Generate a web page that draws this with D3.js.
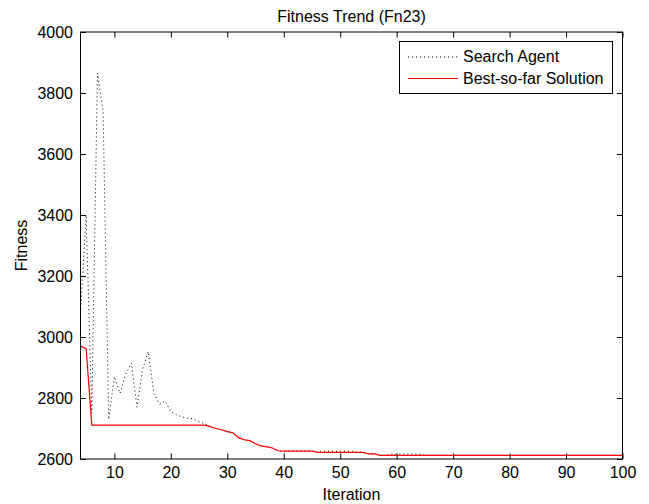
<!DOCTYPE html>
<html>
<head>
<meta charset="utf-8">
<script src="https://cdn.jsdelivr.net/npm/d3@7"></script>
<style>
    body { margin: 0; background: #fff; }
    svg text { font-family: 'Liberation Sans', Arial, sans-serif; fill: #000; }
</style>
</head>
<body>
<script>
var firstIteration = 4;
var lastIteration = 100;

// fitness of the search agent, iterations 4..100
var searchAgent = [
    3080, 3400, 2750, 3865, 3740, 2730, 2870, 2815, 2878, 2915,
    2770, 2893, 2952, 2815, 2780, 2790, 2755, 2745, 2738, 2734,
    2732, 2722, 2716,
    2706, 2700, 2696, 2690, 2686, 2670, 2663, 2660, 2650, 2643, 2640, 2636, 2627,
    2626, 2626, 2626, 2626, 2626, 2626,
    2622,
    2625, 2625, 2625, 2625, 2625, 2625,
    2622, 2622,
    2617, 2617,
    2612, 2612,
    2616, 2616, 2616, 2616, 2616, 2616,
    2612, 2612, 2612, 2612, 2612, 2612, 2612, 2612, 2612, 2612,
    2612, 2612, 2612, 2612, 2612, 2612, 2612, 2612, 2612, 2612,
    2612, 2612, 2612, 2612, 2612, 2612, 2612, 2612, 2612, 2612,
    2612, 2612, 2612, 2612, 2612, 2612
];

// best-so-far fitness, iterations 4..100
var bestSoFar = [
    2970, 2962,
    2711, 2711, 2711, 2711, 2711, 2711, 2711, 2711, 2711, 2711,
    2711, 2711, 2711, 2711, 2711, 2711, 2711, 2711, 2711, 2711, 2711,
    2706, 2700, 2696, 2690, 2686, 2670, 2663, 2660, 2650, 2643, 2640, 2636, 2627,
    2626, 2626, 2626, 2626, 2626, 2626,
    2622, 2622, 2622, 2622, 2622, 2622, 2622, 2622, 2622,
    2617, 2617,
    2612, 2612, 2612, 2612, 2612, 2612, 2612, 2612, 2612, 2612,
    2612, 2612, 2612, 2612, 2612, 2612, 2612, 2612, 2612, 2612,
    2612, 2612, 2612, 2612, 2612, 2612, 2612, 2612, 2612, 2612,
    2612, 2612, 2612, 2612, 2612, 2612, 2612, 2612, 2612, 2612,
    2612, 2612, 2612, 2612
];

var xTicks = [10, 20, 30, 40, 50, 60, 70, 80, 90, 100];
var yTicks = [2600, 2800, 3000, 3200, 3400, 3600, 3800, 4000];

var seriesNames = ['Search Agent', 'Best-so-far Solution'];

var width = 649;
var height = 504;
var plot = { left: 80.5, right: 622.5, top: 32, bottom: 459 };
var tickLength = 5.5;
var fontSize = 16;
var dots = '1,3';

var iterations = d3.range(firstIteration, lastIteration + 1);

var x = d3.scaleLinear()
    .domain([firstIteration, lastIteration])
    .range([plot.left, plot.right]);

var y = d3.scaleLinear()
    .domain([2600, 4000])
    .range([plot.bottom, plot.top]);

var svg = d3.select('body').append('svg')
    .attr('width', width)
    .attr('height', height);

svg.append('rect')
    .attr('width', width)
    .attr('height', height)
    .attr('fill', '#fff');

svg.append('clipPath')
    .attr('id', 'plot-clip')
    .append('rect')
    .attr('x', plot.left)
    .attr('y', plot.top)
    .attr('width', plot.right - plot.left)
    .attr('height', plot.bottom - plot.top);

var line = d3.line()
    .x(function(d) { return x(d[0]); })
    .y(function(d) { return y(d[1]); });

function pairs(values) {
    return iterations.map(function(it, i) { return [it, values[i]]; });
}

var lines = svg.append('g').attr('class', 'plot-area').attr('clip-path', 'url(#plot-clip)');

lines.append('path')
    .attr('class', 'search-agent')
    .attr('d', line(pairs(searchAgent)))
    .attr('fill', 'none')
    .attr('stroke', '#000')
    .attr('stroke-width', 1)
    .attr('stroke-dasharray', dots);

lines.append('path')
    .attr('class', 'best-so-far')
    .attr('d', line(pairs(bestSoFar)))
    .attr('fill', 'none')
    .attr('stroke', '#ff0000')
    .attr('stroke-width', 1.2);

// axes: MATLAB style box with inward ticks on all four sides
var axes = svg.append('g').attr('class', 'axes-container');

axes.append('g')
    .attr('transform', 'translate(0,' + plot.bottom + ')')
    .call(d3.axisBottom(x).tickValues(xTicks).tickSizeInner(-tickLength).tickSizeOuter(0).tickPadding(8));

axes.append('g')
    .attr('transform', 'translate(0,' + plot.top + ')')
    .call(d3.axisTop(x).tickValues(xTicks).tickSizeInner(-tickLength).tickSizeOuter(0).tickFormat(''));

axes.append('g')
    .attr('transform', 'translate(' + plot.left + ',0)')
    .call(d3.axisLeft(y).tickValues(yTicks).tickFormat(d3.format('d'))
        .tickSizeInner(-tickLength).tickSizeOuter(0).tickPadding(7.5));

axes.append('g')
    .attr('transform', 'translate(' + plot.right + ',0)')
    .call(d3.axisRight(y).tickValues(yTicks).tickSizeInner(-tickLength).tickSizeOuter(0).tickFormat(''));

axes.selectAll('.domain').remove();
axes.selectAll('.tick line').attr('stroke', '#000');
axes.selectAll('.tick text')
    .style('font-family', "'Liberation Sans', Arial, sans-serif")
    .style('font-size', fontSize + 'px')
    .attr('fill', '#000');

axes.append('rect')
    .attr('x', plot.left)
    .attr('y', plot.top)
    .attr('width', plot.right - plot.left)
    .attr('height', plot.bottom - plot.top)
    .attr('fill', 'none')
    .attr('stroke', '#000')
    .attr('stroke-width', 1);

svg.append('text')
    .attr('x', (plot.left + plot.right) / 2)
    .attr('y', 22)
    .attr('text-anchor', 'middle')
    .style('font-size', fontSize + 'px')
    .text('Fitness Trend (Fn23)');

svg.append('text')
    .attr('x', (plot.left + plot.right) / 2)
    .attr('y', 500)
    .attr('text-anchor', 'middle')
    .style('font-size', fontSize + 'px')
    .text('Iteration');

svg.append('text')
    .attr('transform', 'translate(27,' + (plot.top + plot.bottom) / 2 + ') rotate(-90)')
    .attr('text-anchor', 'middle')
    .style('font-size', fontSize + 'px')
    .text('Fitness');

// legend
var legend = svg.append('g').attr('class', 'legend');

legend.append('rect')
    .attr('x', 399.5)
    .attr('y', 41.5)
    .attr('width', 213)
    .attr('height', 52)
    .attr('fill', '#fff')
    .attr('stroke', '#000');

var legendItems = legend.selectAll('.legend-item')
    .data(seriesNames)
    .enter()
    .append('g')
    .attr('class', 'legend-item')
    .attr('transform', function(d, i) { return 'translate(0,' + (56.5 + i * 21.5) + ')'; });

legendItems.append('line')
    .attr('x1', 408)
    .attr('x2', 458)
    .attr('y1', 0.5)
    .attr('y2', 0.5)
    .attr('stroke', function(d, i) { return i === 0 ? '#000' : '#ff0000'; })
    .attr('stroke-width', function(d, i) { return i === 0 ? 1 : 1.2; })
    .attr('stroke-dasharray', function(d, i) { return i === 0 ? dots : null; });

legendItems.append('text')
    .attr('x', 463)
    .attr('y', 5.5)
    .style('font-size', fontSize + 'px')
    .text(function(d) { return d; });
</script>
</body>
</html>
